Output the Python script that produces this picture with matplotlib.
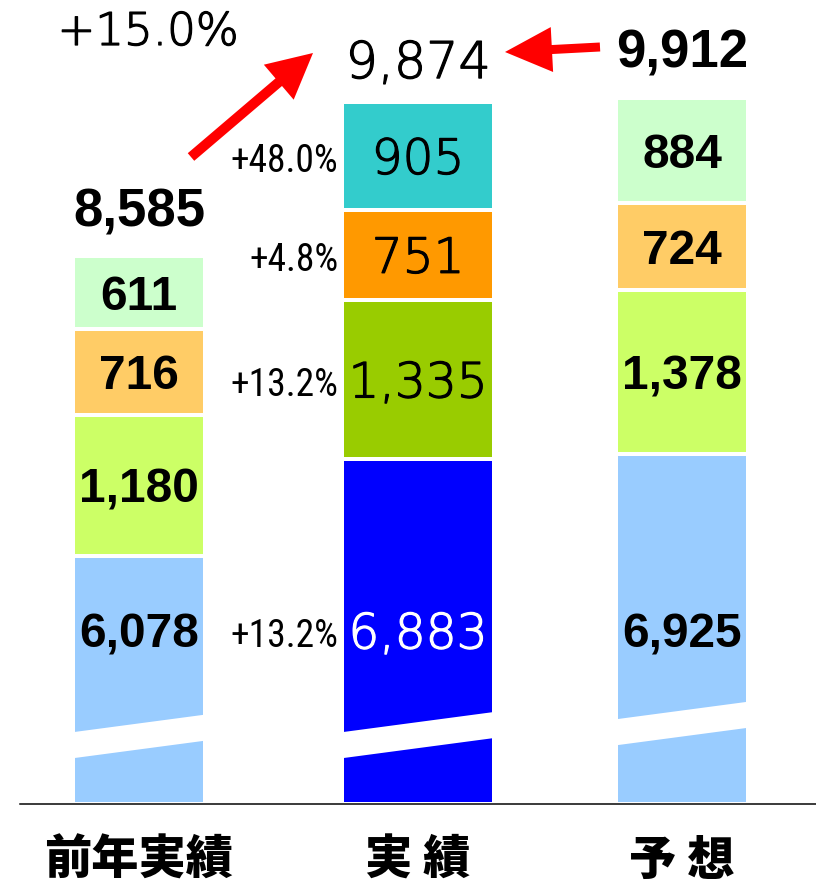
import matplotlib
matplotlib.use('Agg')
import matplotlib.pyplot as plt
from matplotlib.patches import Polygon, FancyArrow
import matplotlib.patheffects as pe

# ---------------- data ----------------
categories = ['前年実績', '実 績', '予 想']
seg_base = [6078, 6883, 6925]
seg_2 = [1180, 1335, 1378]
seg_3 = [716, 751, 724]
seg_4 = [611, 905, 884]
totals = [8585, 9874, 9912]
growth_actual = ['+13.2%', '+13.2%', '+4.8%', '+48.0%']
growth_total = '+15.0%'

# ---------------- layout ----------------
W, H, DPI = 816, 886, 100
PX = 72 / DPI                 # points per pixel
K = 0.1195                    # pixels per value unit
BASE_PX = 804                 # baseline from top (px)
AX_LEFT = 20
UNIT_X = 271.5
X0 = 139
xpos = [0, 1.028, 2.0]
widths = [132 / UNIT_X, 152 / UNIT_X, 132 / UNIT_X]
BREAK_OFFSET = 4000           # axis break: hidden part of bottom segment
BREAK_Y = [377, 377, 485]     # lower-left corner of break gap (units)
BREAK_THICK = 218
BREAK_SLOPE = 302
BLUE_LABEL_Y = 1450

colors_normal = ['#99CCFF', '#CCFF66', '#FFCC66', '#CCFFCC']
colors_actual = ['#0000FF', '#99CC00', '#FF9900', '#33CCCC']

fig = plt.figure(figsize=(W / DPI, H / DPI), dpi=DPI)
ax = fig.add_axes([AX_LEFT / W, (H - BASE_PX) / H, (W - AX_LEFT) / W, BASE_PX / H])
ax.set_xlim((AX_LEFT - X0) / UNIT_X, (W - X0) / UNIT_X)
ax.set_ylim(0, BASE_PX / K)
for s in ['top', 'right', 'left']:
    ax.spines[s].set_visible(False)
ax.spines['bottom'].set_linewidth(1.5 * PX)
ax.spines['bottom'].set_color('black')
ax.set_xticks([])
ax.set_yticks([])

bold_font = dict(family=['Liberation Sans', 'DejaVu Sans'], fontweight='bold')
thin_font = dict(family=['DejaVu Sans'], fontweight='light')
narrow_font = dict(family=['Roboto Condensed', 'Roboto', 'Liberation Sans'])
NARROW_SIZE = 27


def thin_fx(color):
    return [pe.withStroke(linewidth=0.9, foreground=color)]


def centered(x, y, text, size, cap, **kw):
    """Place text so that the cap height is centred on y."""
    ax.annotate(text, xy=(x, y), xytext=(0, -size * cap / 2),
                textcoords='offset points', va='baseline', fontsize=size,
                zorder=5, **kw)


for i in range(3):
    x = xpos[i]
    w = widths[i]
    heights = [seg_base[i] - BREAK_OFFSET, seg_2[i], seg_3[i], seg_4[i]]
    values = [seg_base[i], seg_2[i], seg_3[i], seg_4[i]]
    cols = colors_actual if i == 1 else colors_normal
    bottom = 0
    for j, h in enumerate(heights):
        ax.bar(x, h, width=w, bottom=bottom, color=cols[j],
               edgecolor='white', linewidth=4 * PX, zorder=1)
        yc = BLUE_LABEL_Y if j == 0 else bottom + h / 2
        label = f'{values[j]:,}'
        if i == 1:
            c = 'white' if j == 0 else 'black'
            centered(x, yc, label, 35, 0.729, ha='center', color=c,
                     path_effects=thin_fx(c), **thin_font)
            ax.annotate(growth_actual[j], xy=(x - w / 2, yc),
                        xytext=(-4 * PX, -NARROW_SIZE * 0.711 / 2 - 3 * PX),
                        textcoords='offset points', ha='right', va='baseline',
                        fontsize=NARROW_SIZE, color='black', zorder=5, **narrow_font)
        else:
            centered(x, yc, label, 34.5, 0.716, ha='center', color='black',
                     **bold_font)
        bottom += h
    # axis-break gap
    gb = BREAK_Y[i]
    xl, xr = x - w / 2 - 0.02, x + w / 2 + 0.02
    poly = Polygon([(xl, gb), (xr, gb + BREAK_SLOPE * (xr - xl)),
                    (xr, gb + BREAK_SLOPE * (xr - xl) + BREAK_THICK),
                    (xl, gb + BREAK_THICK)], closed=True,
                   facecolor='white', edgecolor='none', zorder=3)
    ax.add_patch(poly)
    # total label
    if i == 1:
        ax.annotate(f'{totals[i]:,}', xy=(x, bottom), xytext=(0, 24 * PX),
                    textcoords='offset points', ha='center', va='baseline',
                    fontsize=36.5, color='black', path_effects=thin_fx('black'),
                    **thin_font)
    else:
        ax.annotate(f'{totals[i]:,}', xy=(x, bottom), xytext=(0, 30 * PX),
                    textcoords='offset points', ha='center', va='baseline',
                    fontsize=38, color='black', **bold_font)
    # category label
    ax.text(x, -0.07, categories[i], transform=ax.get_xaxis_transform(),
            ha='center', va='center', fontsize=34, color='black',
            family=['Noto Sans CJK JP', 'DejaVu Sans'], fontweight='black')

# ---------------- overlay (arrows, overall growth) ----------------
ov = fig.add_axes([0, 0, 1, 1], zorder=10)
ov.set_xlim(0, W)
ov.set_ylim(H, 0)
ov.axis('off')
ov.patch.set_alpha(0)
ov.add_patch(FancyArrow(191, 157, 122, -104, width=10, head_width=46, head_length=45,
                        length_includes_head=True, color='#FF0000', lw=0))
ov.add_patch(FancyArrow(600, 47, -95, 5, width=9, head_width=45, head_length=47,
                        length_includes_head=True, color='#FF0000', lw=0))
ov.text(148, 45, growth_total, ha='center', va='baseline', fontsize=32.5,
        color='black', path_effects=thin_fx('black'), **thin_font)

fig.savefig('out.png', dpi=DPI)
